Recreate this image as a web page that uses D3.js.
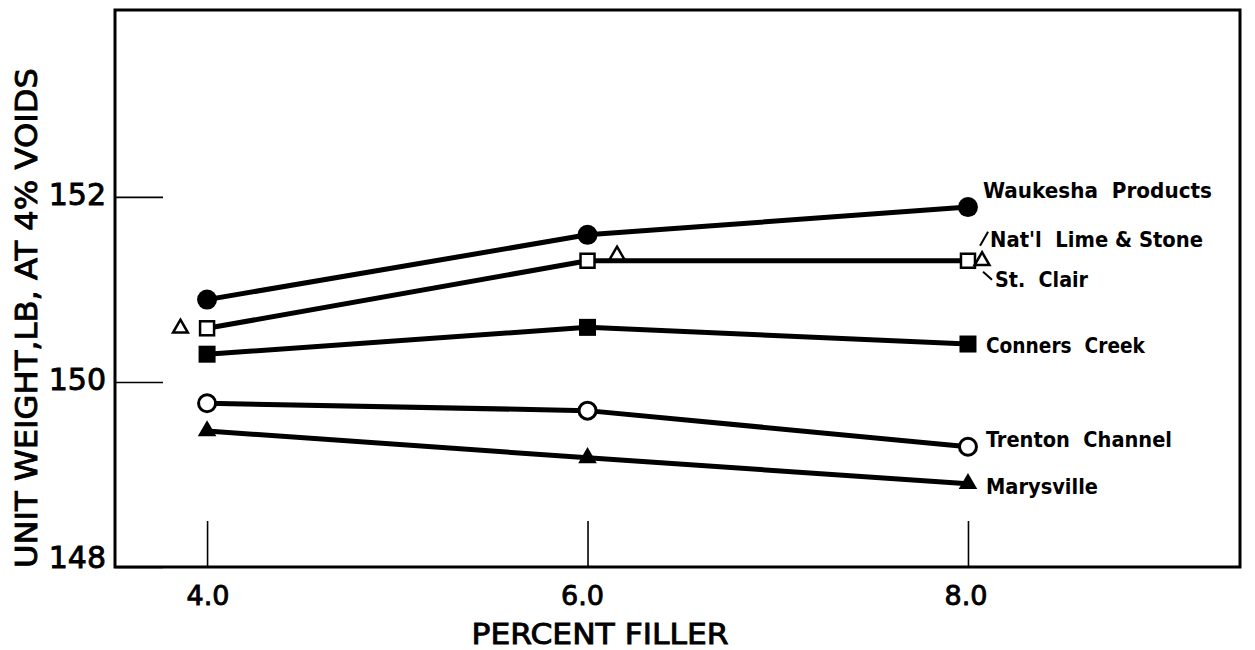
<!DOCTYPE html>
<html>
<head>
<meta charset="utf-8">
<script src="https://cdn.jsdelivr.net/npm/d3@7"></script>
<style>
  html, body { margin: 0; padding: 0; background: #fff; }
  svg { display: block; }
  .axis-text { font-family: "DejaVu Sans", sans-serif; font-size: 29px; fill: #000; stroke: #000; stroke-width: 0.9px; }
  .series-label { font-family: "DejaVu Sans Condensed", "DejaVu Sans", sans-serif; font-weight: bold; font-size: 21px; fill: #000; white-space: pre; }
</style>
</head>
<body>
<svg id="chart" width="1255" height="650"></svg>
<script>
// Percent filler levels (x) and unit weight at 4% voids (lb/cu ft)
const fillerPct = [4.0, 6.0, 8.0];
const xTickLabels = ["4.0", "6.0", "8.0"];
const yTickValues = [148, 150, 152];

const waukesha     = [150.89, 151.59, 151.89];
const natlLime     = [150.58, 151.31, 151.31];
const connersCreek = [150.30, 150.59, 150.41];
const trenton      = [149.77, 149.69, 149.30];
const marysville   = [149.47, 149.18, 148.90];

// St. Clair points are drawn beside the Nat'l Lime points (no connecting line)
const stClairX = [3.86, 6.155, 8.074];
const stClair  = [150.58, 151.37, 151.31];

const svg = d3.select("#chart");
const plotL = 115, plotR = 1240, plotT = 10, plotB = 567;

const x = d3.scaleLinear().domain([3.516, 9.43]).range([plotL, plotR]);
const y = d3.scaleLinear().domain([148, 154.02]).range([plotB, plotT]);

// Inner ticks
const xAxis = d3.axisBottom(x).tickValues(fillerPct).tickSizeInner(-46).tickSizeOuter(0).tickFormat(() => "");
const gx = svg.append("g").attr("transform", `translate(0,${plotB})`).call(xAxis);
gx.select(".domain").remove();
gx.selectAll(".tick line").attr("stroke", "#000").attr("stroke-width", 1.6);

const yAxis = d3.axisLeft(y).tickValues(yTickValues).tickSizeInner(-48).tickSizeOuter(0).tickFormat(() => "");
const gy = svg.append("g").attr("transform", `translate(${plotL},0)`).call(yAxis);
gy.select(".domain").remove();
gy.selectAll(".tick line").attr("stroke", "#000").attr("stroke-width", 1.6);

// Frame
svg.append("rect")
  .attr("x", plotL).attr("y", plotT)
  .attr("width", plotR - plotL).attr("height", plotB - plotT)
  .attr("fill", "none").attr("stroke", "#000").attr("stroke-width", 3);

// Tick labels
const xLabelNudge = [1, -5, -2];
svg.selectAll(".xlab").data(fillerPct).join("text")
  .attr("class", "axis-text")
  .style("font-size", "27px")
  .attr("x", (d, i) => x(d) + xLabelNudge[i]).attr("y", 605)
  .attr("text-anchor", "middle")
  .text((d, i) => xTickLabels[i]);

svg.selectAll(".ylab").data(yTickValues).join("text")
  .attr("class", "axis-text")
  .style("font-size", "30px")
  .attr("x", 106)
  .attr("y", d => d === 148 ? y(d) - 10 : y(d) - 2)
  .attr("text-anchor", "end")
  .attr("dominant-baseline", "central")
  .text(d => d);

// Axis titles
svg.append("text").attr("class", "axis-text")
  .attr("x", 600).attr("y", 644).attr("text-anchor", "middle")
  .attr("textLength", 257).attr("lengthAdjust", "spacingAndGlyphs")
  .text("PERCENT FILLER");

svg.append("text").attr("class", "axis-text")
  .attr("transform", `translate(37,318) rotate(-90)`)
  .attr("text-anchor", "middle")
  .style("font-size", "31px")
  .attr("textLength", 500).attr("lengthAdjust", "spacingAndGlyphs")
  .text("UNIT WEIGHT,LB, AT 4% VOIDS");

// Series
const series = [
  { name: "Waukesha  Products", values: waukesha,     marker: "circle",   filled: true,  dx: 15, dy: -16, w: 229 },
  { name: "Conners  Creek",     values: connersCreek, marker: "square",   filled: true,  dx: 18, dy: 2,   w: 159 },
  { name: "Trenton  Channel",   values: trenton,      marker: "circle",   filled: false, dx: 18, dy: -7,  w: 186 },
  { name: "Marysville",         values: marysville,   marker: "triangle", filled: true,  dx: 18, dy: 3,   w: 112 },
  { name: null,                 values: natlLime,     marker: "square",   filled: false }
];

const line = d3.line().x(d => x(d[0])).y(d => y(d[1]));

series.forEach(s => {
  const pts = fillerPct.map((f, i) => [f, s.values[i]]);
  svg.append("path").datum(pts)
    .attr("d", line)
    .attr("fill", "none").attr("stroke", "#000").attr("stroke-width", 5)
    .attr("stroke-linejoin", "round");
});

function drawMarker(px, py, marker, filled) {
  const fill = filled ? "#000" : "#fff";
  if (marker === "circle") {
    svg.append("circle").attr("cx", px).attr("cy", py)
      .attr("r", filled ? 10 : 8.5)
      .attr("fill", fill).attr("stroke", "#000").attr("stroke-width", filled ? 0 : 3);
  } else if (marker === "square") {
    const s = filled ? 17 : 14;
    svg.append("rect").attr("x", px - s / 2).attr("y", py - s / 2)
      .attr("width", s).attr("height", s)
      .attr("fill", fill).attr("stroke", "#000").attr("stroke-width", filled ? 0 : 2.5);
  } else {
    const size = filled ? 150 : 95;
    svg.append("path")
      .attr("transform", `translate(${px},${py})`)
      .attr("d", d3.symbol(d3.symbolTriangle, size)())
      .attr("fill", fill).attr("stroke", "#000").attr("stroke-width", filled ? 0 : 2.5)
      .attr("stroke-linejoin", "miter");
  }
}

function addLabel(px, py, text, width) {
  svg.append("text").attr("class", "series-label")
    .attr("x", px).attr("y", py)
    .attr("dominant-baseline", "central")
    .attr("textLength", width).attr("lengthAdjust", "spacingAndGlyphs")
    .text(text);
}

series.forEach(s => {
  fillerPct.forEach((f, i) => drawMarker(x(f), y(s.values[i]), s.marker, s.filled));
  if (s.name) {
    const last = fillerPct.length - 1;
    addLabel(x(fillerPct[last]) + s.dx, y(s.values[last]) + s.dy, s.name, s.w);
  }
});

stClairX.forEach((f, i) => drawMarker(x(f), y(stClair[i]), "triangle", false));

// Leader lines and labels for the shared 8.0 point
const cx = x(stClairX[2]), cy = y(stClair[2]);
svg.append("line").attr("x1", cx - 2).attr("y1", cy - 15).attr("x2", cx + 6).attr("y2", cy - 29)
  .attr("stroke", "#000").attr("stroke-width", 2);
svg.append("line").attr("x1", cx + 1).attr("y1", cy + 11).attr("x2", cx + 10).attr("y2", cy + 19)
  .attr("stroke", "#000").attr("stroke-width", 2);
addLabel(cx + 8, cy - 21, "Nat'l  Lime & Stone", 213);
addLabel(cx + 13, cy + 19, "St.  Clair", 93);
</script>
</body>
</html>
